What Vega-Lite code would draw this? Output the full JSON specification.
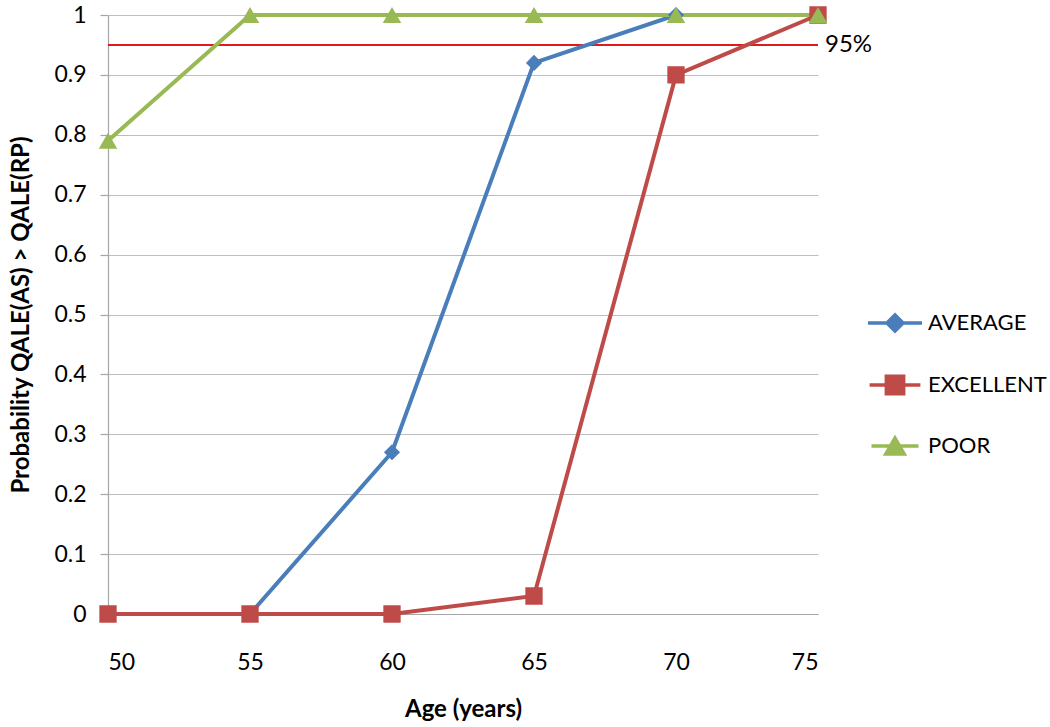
{
  "$schema": "https://vega.github.io/schema/vega-lite/v6.json",
  "width": 710,
  "height": 599,
  "autosize": {"type": "none"},
  "padding": {"left": 108, "top": 15, "right": 232, "bottom": 113},
  "background": "white",
  "config": {"view": {"stroke": null}, "font": "Lato"},
  "datasets": {
    "series": [
      {"age": 50, "series": "AVERAGE", "p": 0},
      {"age": 55, "series": "AVERAGE", "p": 0},
      {"age": 60, "series": "AVERAGE", "p": 0.27},
      {"age": 65, "series": "AVERAGE", "p": 0.92},
      {"age": 70, "series": "AVERAGE", "p": 1},
      {"age": 75, "series": "AVERAGE", "p": 1},
      {"age": 50, "series": "EXCELLENT", "p": 0},
      {"age": 55, "series": "EXCELLENT", "p": 0},
      {"age": 60, "series": "EXCELLENT", "p": 0},
      {"age": 65, "series": "EXCELLENT", "p": 0.03},
      {"age": 70, "series": "EXCELLENT", "p": 0.9},
      {"age": 75, "series": "EXCELLENT", "p": 1},
      {"age": 50, "series": "POOR", "p": 0.79},
      {"age": 55, "series": "POOR", "p": 1},
      {"age": 60, "series": "POOR", "p": 1},
      {"age": 65, "series": "POOR", "p": 1},
      {"age": 70, "series": "POOR", "p": 1},
      {"age": 75, "series": "POOR", "p": 1}
    ],
    "ref": [{"age": 75, "p": 0.95, "label": "95%"}]
  },
  "layer": [
    {
      "data": {"name": "ref"},
      "mark": {"type": "rule", "color": "#E0191C", "strokeWidth": 2},
      "encoding": {
        "y": {"field": "p", "type": "quantitative"}
      }
    },
    {
      "data": {"name": "ref"},
      "mark": {"type": "text", "align": "left", "baseline": "middle", "dx": 7, "fontSize": 24, "font": "Lato", "color": "#000000"},
      "encoding": {
        "x": {"field": "age", "type": "quantitative"},
        "y": {"field": "p", "type": "quantitative"},
        "text": {"field": "label"}
      }
    },
    {
      "data": {"name": "series"},
      "mark": {"type": "line", "strokeWidth": 4},
      "encoding": {
        "x": {
          "field": "age", "type": "quantitative",
          "scale": {"domain": [50, 75], "nice": false, "zero": false},
          "axis": {
            "values": [50, 55, 60, 65, 70, 75],
            "ticks": false, "grid": false,
            "domainColor": "#A6A6A6", "domainWidth": 1.2,
            "labelFontSize": 23, "labelFont": "Lato", "labelColor": "#000000",
            "labelPadding": 37,
            "title": "Age (years)", "titleFontSize": 24, "titleFont": "Lato",
            "titleFontWeight": "bold", "titleColor": "#000000",
            "titleBaseline": "alphabetic", "titleY": 102
          }
        },
        "y": {
          "field": "p", "type": "quantitative",
          "scale": {"domain": [0, 1], "nice": false},
          "axis": {
            "values": [0, 0.1, 0.2, 0.3, 0.4, 0.5, 0.6, 0.7, 0.8, 0.9, 1],
            "format": ".1~f",
            "grid": true, "gridColor": "#BDBDBD", "gridWidth": 1.2,
            "domainColor": "#A6A6A6", "domainWidth": 1.2,
            "tickColor": "#A6A6A6", "tickSize": 8, "tickWidth": 1.2,
            "labelFontSize": 23, "labelFont": "Lato", "labelColor": "#000000",
            "labelPadding": 14,
            "title": "Probability QALE(AS) > QALE(RP)", "titleFontSize": 24,
            "titleFont": "Lato", "titleFontWeight": "bold", "titleColor": "#000000",
            "titleBaseline": "alphabetic", "titleX": -80
          }
        },
        "color": {
          "field": "series", "type": "nominal",
          "scale": {"domain": ["AVERAGE", "EXCELLENT", "POOR"], "range": ["#4A7EBB", "#BE4B48", "#98B954"]},
          "legend": {
            "orient": "none", "legendX": 776, "legendY": 297,
            "title": null, "padding": 0,
            "symbolStrokeWidth": 3.5,
            "labelFontSize": 22, "labelFont": "Lato", "labelColor": "#000000",
            "labelOffset": 22, "rowPadding": 30
          }
        },
        "detail": {"field": "series"}
      }
    },
    {
      "data": {"name": "series"},
      "mark": {"type": "point", "filled": true, "opacity": 1},
      "encoding": {
        "x": {"field": "age", "type": "quantitative"},
        "y": {"field": "p", "type": "quantitative"},
        "color": {
          "field": "series", "type": "nominal",
          "legend": null
        },
        "shape": {
          "field": "series", "type": "nominal",
          "scale": {"domain": ["AVERAGE", "EXCELLENT", "POOR"], "range": ["M-3.35,0H3.35M0,-1L1,0L0,1L-1,0Z", "M-2.93,0H2.93M-1,-1H1V1H-1Z", "M-2.55,0H2.55M0,-0.866L1,0.866H-1Z"]},
          "legend": null
        },
        "size": {
          "field": "series", "type": "nominal",
          "scale": {"domain": ["AVERAGE", "EXCELLENT", "POOR"], "range": [260, 340, 450]},
          "legend": null
        }
      }
    }
  ]
}
